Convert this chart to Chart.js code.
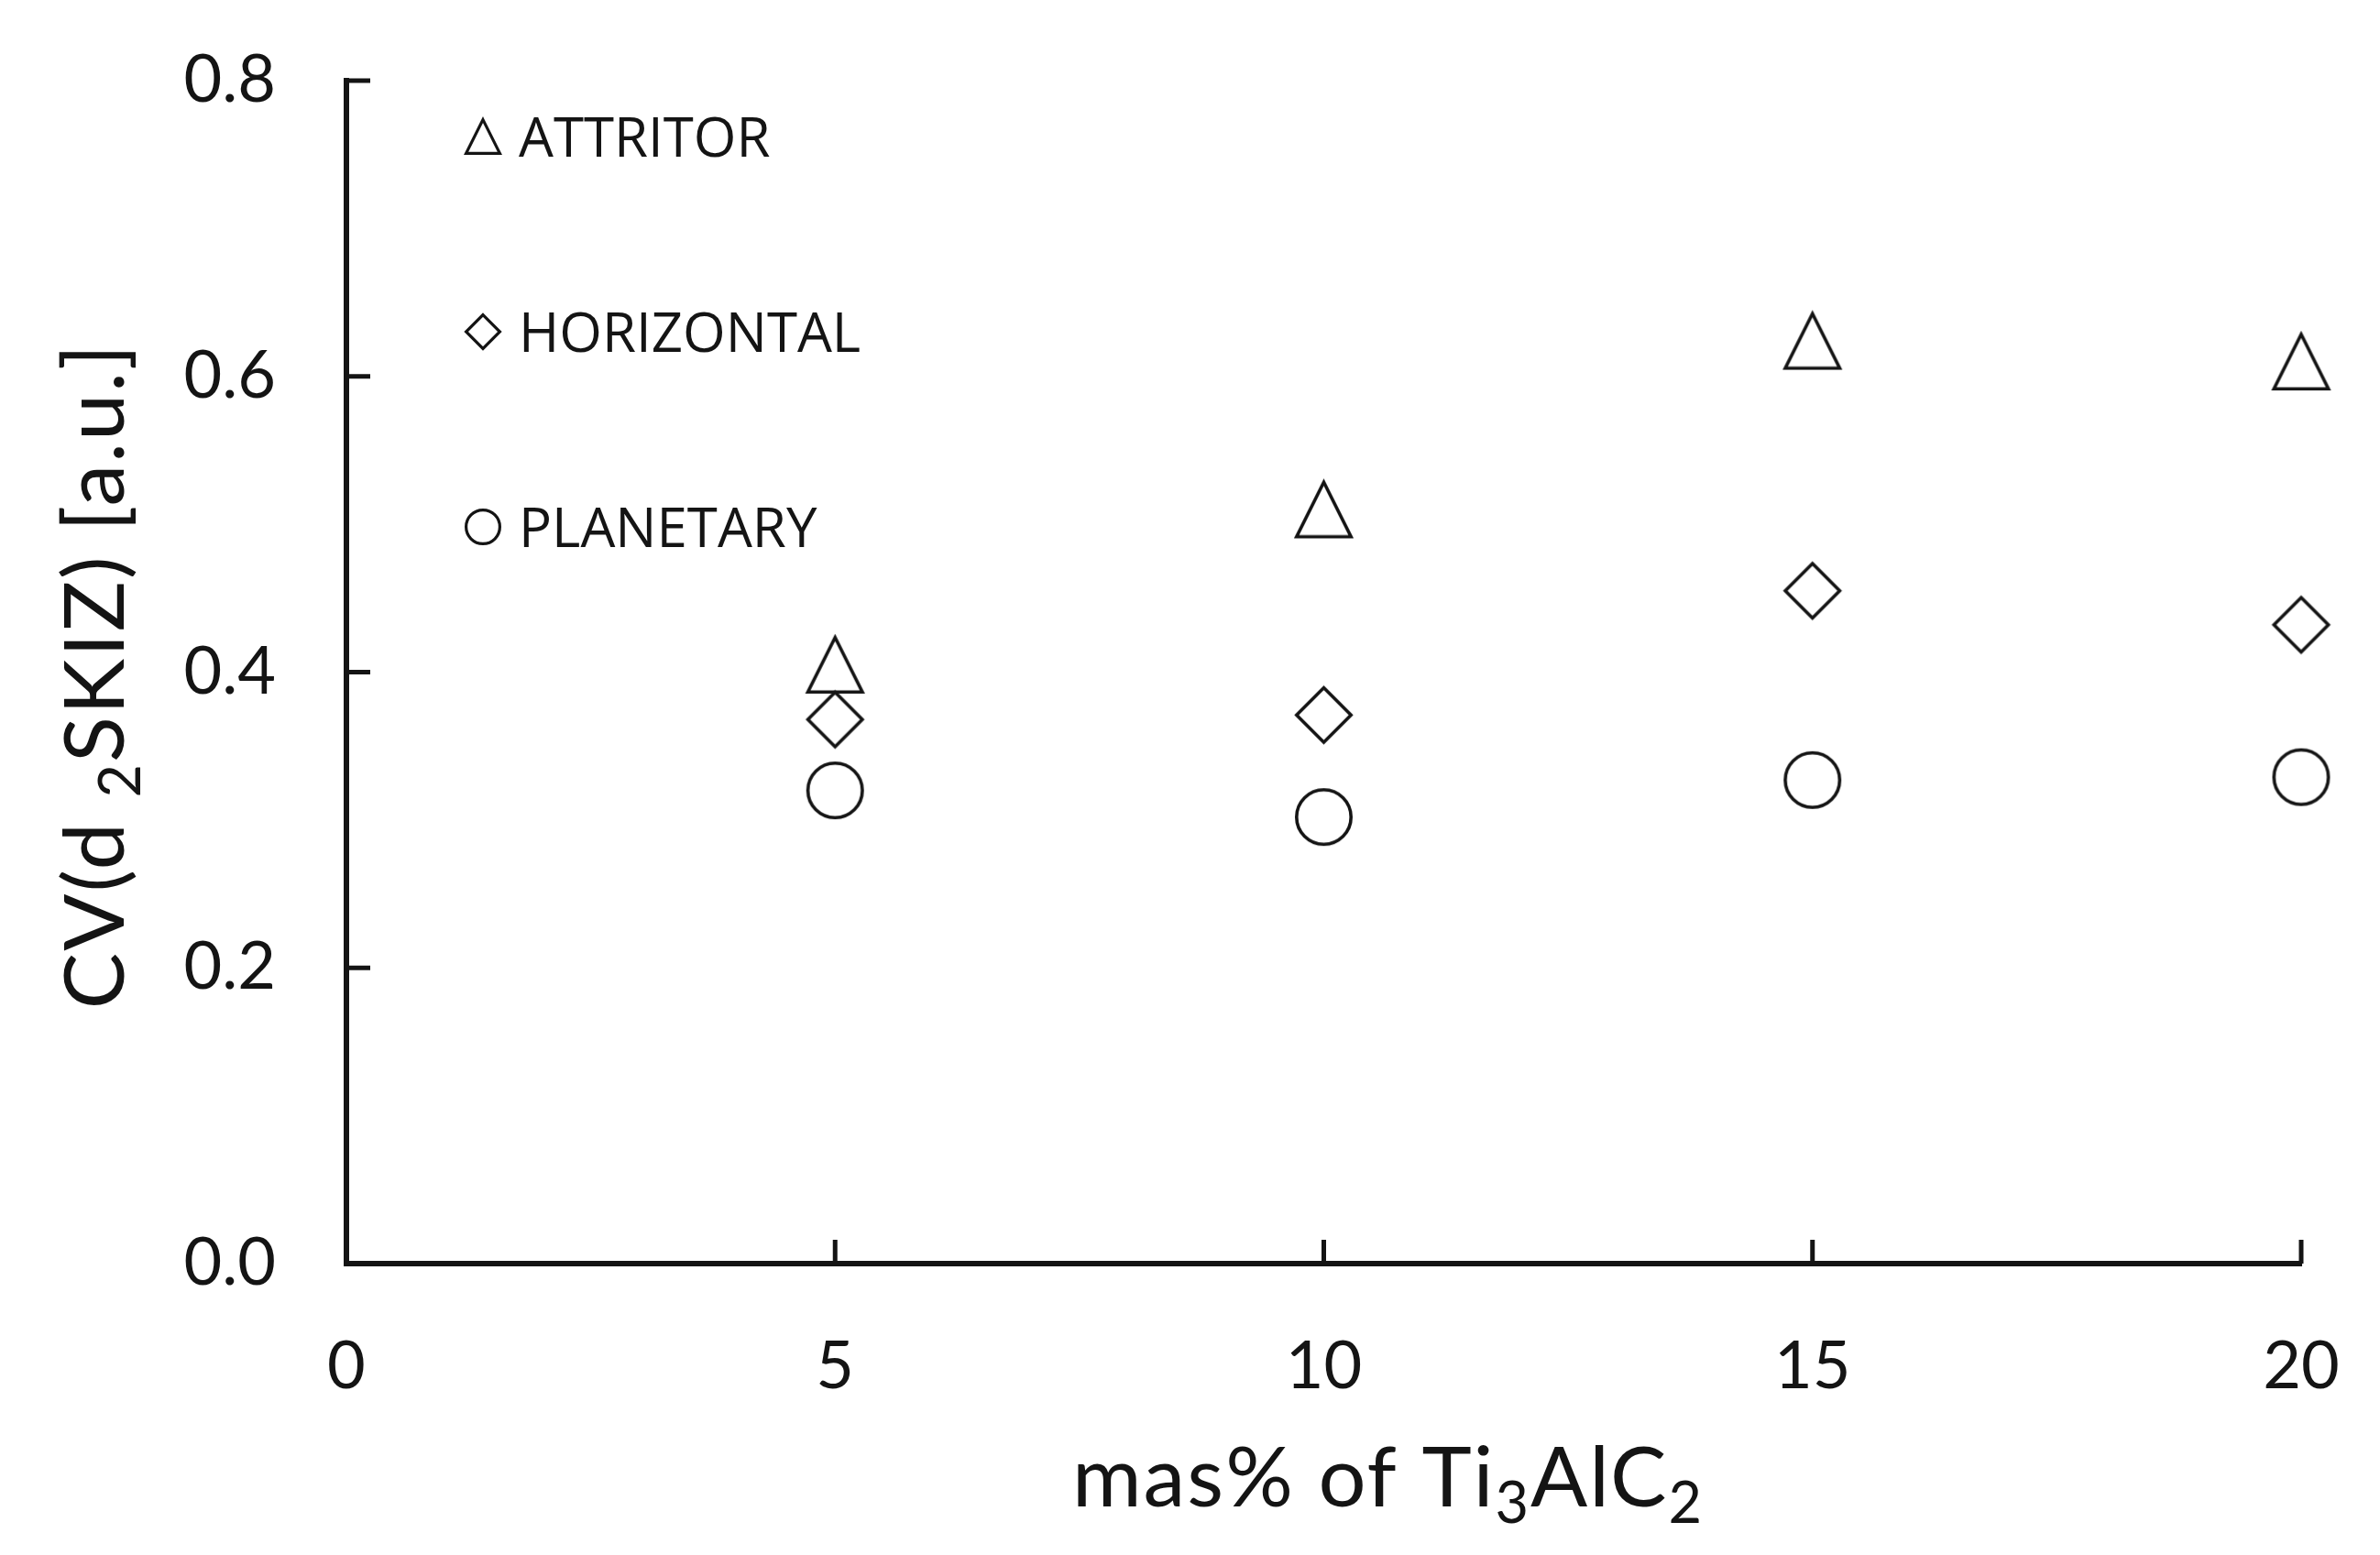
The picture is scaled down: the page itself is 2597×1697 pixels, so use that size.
<!DOCTYPE html>
<html>
<head>
<meta charset="utf-8">
<script src="https://cdn.jsdelivr.net/npm/chart.js@4.4.1/dist/chart.umd.min.js"></script>
<style>
  html, body { margin: 0; padding: 0; background: #fff; }
  #wrap { width: 2597px; height: 1697px; position: relative; }
</style>
</head>
<body>
<div id="wrap"><canvas id="cvChart"></canvas></div>
<script>
// values
const massPct = [5, 10, 15, 20];
const attritor = [0.405, 0.51, 0.624, 0.61];
const horizontal = [0.368, 0.371, 0.455, 0.432];
const planetary = [0.320, 0.302, 0.327, 0.329];
const seriesNames = ["ATTRITOR", "HORIZONTAL", "PLANETARY"];
const xTicks = [0, 5, 10, 15, 20];
const yTicks = [0, 0.2, 0.4, 0.6, 0.8];

// axis titles, split so the digits can be set as subscripts
const xTitle = [{ t: 'mas% of Ti' }, { t: '3', sub: true }, { t: 'AlC' }, { t: '2', sub: true }];
const yTitle = [{ t: 'CV(d ' }, { t: '2', sub: true }, { t: 'SKIZ) [a.u.]' }];

const ink = '#141414';

// hollow marker drawn on a small canvas, used as pointStyle
function marker(shape, size, lw) {
  const c = document.createElement('canvas');
  const pad = Math.ceil(lw) + 1;
  c.width = c.height = size + 2 * pad;
  const g = c.getContext('2d');
  const m = c.width / 2, h = size / 2 - lw / 2;
  g.lineWidth = lw;
  g.strokeStyle = ink;
  g.lineJoin = 'miter';
  g.beginPath();
  if (shape === 'triangle') {
    g.moveTo(m, m - h);
    g.lineTo(m + h, m + h);
    g.lineTo(m - h, m + h);
    g.closePath();
  } else if (shape === 'diamond') {
    g.moveTo(m, m - h);
    g.lineTo(m + h, m);
    g.lineTo(m, m + h);
    g.lineTo(m - h, m);
    g.closePath();
  } else {
    g.arc(m, m, h, 0, Math.PI * 2);
  }
  g.stroke();
  return c;
}

const shapes = ['triangle', 'diamond', 'circle'];
const values = [attritor, horizontal, planetary];

const datasets = values.map((vals, i) => ({
  label: seriesNames[i],
  data: massPct.map((x, j) => ({ x: x, y: vals[j] })),
  pointStyle: marker(shapes[i], 63, 3.6),
  legendMarker: marker(shapes[i], 40, 3.2),
  showLine: false,
  clip: false
}));

// small tick marks pointing into the plot
const innerTicks = {
  id: 'innerTicks',
  afterDraw(chart) {
    const ctx = chart.ctx, a = chart.chartArea;
    const xs = chart.scales.x, ys = chart.scales.y;
    ctx.save();
    ctx.strokeStyle = ink;
    ctx.lineWidth = 5;
    xTicks.forEach(v => {
      if (v === 0) return;
      const px = xs.getPixelForValue(v);
      ctx.beginPath();
      ctx.moveTo(px, a.bottom);
      ctx.lineTo(px, a.bottom - 26);
      ctx.stroke();
    });
    yTicks.forEach(v => {
      if (v === 0) return;
      const py = ys.getPixelForValue(v);
      ctx.beginPath();
      ctx.moveTo(a.left, py);
      ctx.lineTo(a.left + 26, py);
      ctx.stroke();
    });
    ctx.restore();
  }
};

// legend in the upper-left of the plot, one row per series
const cornerLegend = {
  id: 'cornerLegend',
  afterDraw(chart) {
    const ctx = chart.ctx, a = chart.chartArea;
    ctx.save();
    ctx.fillStyle = ink;
    ctx.font = '60px "Open Sans"';
    ctx.textBaseline = 'alphabetic';
    ctx.textAlign = 'left';
    chart.data.datasets.forEach((ds, i) => {
      const cy = a.top + 61 + i * 213;
      const img = ds.legendMarker;
      ctx.drawImage(img, a.left + 149 - img.width / 2, cy - img.height / 2);
      ctx.fillText(ds.label, a.left + 188, cy + 21.5);
    });
    ctx.restore();
  }
};

// axis titles with real subscripts
function drawRich(ctx, parts, size, cx, baseY) {
  const big = size + 'px Lato', small = Math.round(size * 0.68) + 'px Lato';
  let total = 0;
  parts.forEach(p => { ctx.font = p.sub ? small : big; total += ctx.measureText(p.t).width; });
  let x = cx - total / 2;
  parts.forEach(p => {
    ctx.font = p.sub ? small : big;
    ctx.fillText(p.t, x, baseY + (p.sub ? size * 0.2 : 0));
    x += ctx.measureText(p.t).width;
  });
}

const axisTitles = {
  id: 'axisTitles',
  afterDraw(chart) {
    const ctx = chart.ctx, a = chart.chartArea;
    ctx.save();
    ctx.fillStyle = ink;
    ctx.textBaseline = 'alphabetic';
    ctx.textAlign = 'left';
    ctx.letterSpacing = '2px';
    drawRich(ctx, xTitle, 92, (a.left + a.right) / 2 + 70, a.bottom + 265);
    ctx.translate(a.left - 243, (a.top + a.bottom) / 2 + 4);
    ctx.rotate(-Math.PI / 2);
    drawRich(ctx, yTitle, 92, 0, 0);
    ctx.restore();
  }
};

new Chart(document.getElementById('cvChart'), {
  type: 'scatter',
  data: { datasets: datasets },
  plugins: [innerTicks, cornerLegend, axisTitles],
  options: {
    responsive: true,
    maintainAspectRatio: false,
    animation: false,
    layout: { autoPadding: false, padding: { top: 88, right: 86, left: 0, bottom: 0 } },
    plugins: {
      legend: { display: false },
      tooltip: { enabled: false }
    },
    elements: { point: { radius: 32, hoverRadius: 32 } },
    scales: {
      x: {
        type: 'linear',
        min: 0,
        max: 20,
        afterBuildTicks: s => { s.ticks = xTicks.map(v => ({ value: v })); },
        afterFit: s => { s.height = 318; s.paddingLeft = 0; s.paddingRight = 0; },
        grid: { display: false, drawTicks: false },
        border: { display: true, color: ink, width: 6 },
        ticks: {
          padding: 70,
          color: ink,
          font: { family: 'Lato', size: 72 }
        }
      },
      y: {
        type: 'linear',
        min: 0,
        max: 0.8,
        afterBuildTicks: s => { s.ticks = yTicks.map(v => ({ value: v })); },
        afterFit: s => { s.width = 378; s.paddingTop = 0; s.paddingBottom = 0; },
        grid: { display: false, drawTicks: false },
        border: { display: true, color: ink, width: 6 },
        ticks: {
          padding: 77,
          color: ink,
          font: { family: 'Lato', size: 72 },
          callback: v => v.toFixed(1)
        }
      }
    }
  }
});
</script>
</body>
</html>
